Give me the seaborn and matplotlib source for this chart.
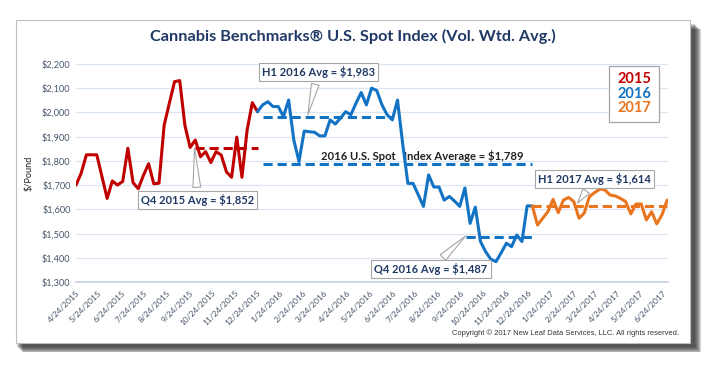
import pandas as pd
import matplotlib
matplotlib.use("Agg")
import matplotlib.pyplot as plt
from matplotlib.patches import Rectangle
import seaborn as sns

# weekly spot prices (each series starts where the previous one ends)
first_week = "2015-04-24"
prices_2015 = [1700, 1750, 1825, 1825, 1825, 1735, 1645, 1717, 1700, 1715, 1852, 1710,
               1685, 1740, 1788, 1705, 1708, 1948, 2038, 2127, 2131, 1946, 1855, 1886,
               1817, 1838, 1793, 1838, 1824, 1755, 1732, 1898, 1732, 1928, 2040, 2003]
prices_2016 = [2003, 2031, 2044, 2024, 2024, 1983, 2051, 1886, 1797, 1923, 1920, 1918,
               1903, 1903, 1969, 1952, 1976, 2003, 1990, 2038, 2082, 2031, 2100, 2090,
               2031, 1990, 1969, 2051, 1870, 1707, 1707, 1660, 1612, 1742, 1692, 1692,
               1638, 1653, 1634, 1612, 1688, 1542, 1609, 1467, 1425, 1394, 1384, 1421,
               1460, 1446, 1494, 1467, 1614, 1614]
prices_2017 = [1614, 1535, 1563, 1590, 1641, 1586, 1638, 1649, 1632, 1563, 1584, 1652,
               1669, 1683, 1680, 1659, 1655, 1645, 1632, 1581, 1622, 1622, 1556, 1590,
               1540, 1577, 1638]
series_names = ["2015", "2016", "2017"]
series_colors = ["#C00000", "#1273C4", "#E9761E"]

# average lines
avg_values = [1852, 1983, 1789, 1487, 1614]
avg_start = ["2015-10-01", "2016-01-01", "2016-01-01", "2016-10-01", "2016-12-30"]
avg_end = ["2015-12-25", "2016-06-24", "2016-12-30", "2016-12-30", "2017-06-30"]
avg_colors = ["#C00000", "#1273C4", "#1273C4", "#1273C4", "#E9761E"]

# callouts: text, box centre (date, value), pointer tip (date, value)
callout_text = ["Q4 2015 Avg = $1,852", "H1 2016 Avg = $1,983",
                "Q4 2016 Avg = $1,487", "H1 2017 Avg = $1,614"]
callout_box = [("2015-10-05", 1640), ("2016-03-16", 2166),
               ("2016-08-15", 1354), ("2017-03-24", 1724)]
callout_tip = [("2015-10-01", 1852), ("2016-03-02", 1990),
               ("2016-10-01", 1490), ("2017-03-01", 1625)]
year_avg_text = "2016 U.S. Spot   Index Average = $1,789"
year_avg_pos = ("2016-08-04", 1822)

tick_labels = ["4/24/2015", "5/24/2015", "6/24/2015", "7/24/2015", "8/24/2015",
               "9/24/2015", "10/24/2015", "11/24/2015", "12/24/2015", "1/24/2016",
               "2/24/2016", "3/24/2016", "4/24/2016", "5/24/2016", "6/24/2016",
               "7/24/2016", "8/24/2016", "9/24/2016", "10/24/2016", "11/24/2016",
               "12/24/2016", "1/24/2017", "2/24/2017", "3/24/2017", "4/24/2017",
               "5/24/2017", "6/24/2017"]
y_ticks = [1300, 1400, 1500, 1600, 1700, 1800, 1900, 2000, 2100, 2200]

frames = []
offset = 0
for name, vals in zip(series_names, [prices_2015, prices_2016, prices_2017]):
    dates = pd.date_range(first_week, periods=len(vals) + offset, freq="7D")[offset:]
    frames.append(pd.DataFrame({"date": dates, "price": vals, "year": name}))
    offset += len(vals) - 1
df = pd.concat(frames, ignore_index=True)

sns.set_theme(style="white")
plt.rcParams["font.family"] = ["Lato", "DejaVu Sans"]

navy = "#1F3864"
tick_col = "#44546A"

fig = plt.figure(figsize=(7.2, 3.76), dpi=100)
fig.patch.set_facecolor("white")

# shadowed frame
for i in range(7):
    fig.patches.append(Rectangle((0.024 + i * 0.0014, 0.088 - 0.012 - i * 0.0022),
                                 0.937 + 0.004, 0.859, transform=fig.transFigure,
                                 fc="#2A2A2A", alpha=0.2, ec="none", zorder=-5))
fig.patches.append(Rectangle((0.022, 0.088), 0.937, 0.859, transform=fig.transFigure,
                             fc="white", ec="#BFBFBF", lw=0.8, zorder=-4))

ax = fig.add_axes([0.1056, 0.25, 0.822, 0.58])
ax.set_facecolor("none")

sns.lineplot(data=df, x="date", y="price", hue="year", palette=series_colors,
             linewidth=2.2, legend=False, ax=ax, zorder=3)

for v, s, e, c in zip(avg_values, avg_start, avg_end, avg_colors):
    ax.plot(pd.to_datetime([s, e]), [v, v], color=c, lw=2.2, ls=(0, (3, 1.6)), zorder=2)

for txt, box, tip in zip(callout_text, callout_box, callout_tip):
    ax.annotate(txt, xy=(pd.Timestamp(tip[0]), tip[1]),
                xytext=(pd.Timestamp(box[0]), box[1]),
                ha="center", va="center", fontsize=8.0, fontweight="bold", color=navy,
                bbox=dict(boxstyle="square,pad=0.28", fc="white", ec="#A6A6A6", lw=0.8),
                arrowprops=dict(arrowstyle="wedge,tail_width=0.7", fc="white",
                                ec="#A6A6A6", lw=0.8, shrinkB=0),
                zorder=5)

ax.text(pd.Timestamp(year_avg_pos[0]), year_avg_pos[1], year_avg_text, ha="center",
        va="center", fontsize=8.1, fontweight="bold", color="#222222", zorder=1)

ax.set_ylim(1300, 2200)
ax.set_yticks(y_ticks)
ax.set_yticklabels([f"${v:,}" for v in y_ticks], fontsize=6.6, color=tick_col)
ax.set_xlim(pd.Timestamp("2015-04-24"), pd.Timestamp("2017-07-01"))
tick_dates = pd.to_datetime(tick_labels, format="%m/%d/%Y")
ax.set_xticks(tick_dates)
ax.set_xticklabels(tick_labels, rotation=45, ha="right", rotation_mode="anchor",
                   fontsize=6.0, color=tick_col)
ax.tick_params(axis="x", length=3, color="#C9D3E3", pad=2)
ax.tick_params(axis="y", length=0, pad=4)
ax.grid(axis="y", color="#DCE5F3", lw=0.9)
ax.grid(axis="x", visible=False)
for side in ["top", "right", "left"]:
    ax.spines[side].set_visible(False)
ax.spines["bottom"].set_color("#C9D3E3")
ax.set_xlabel("")
ax.set_ylabel("$/Pound", fontsize=6.6, color="#222222", labelpad=6)

fig.text(0.49, 0.903, "Cannabis Benchmarks\u00ae U.S. Spot Index (Vol. Wtd. Avg.)",
         ha="center", va="center", fontsize=11.7, fontweight="bold", color=navy)

# year key box
fig.patches.append(Rectangle((609 / 720, 1 - 122 / 376), 50 / 720, 56 / 376,
                             transform=fig.transFigure, fc="white", ec="#A6A6A6",
                             lw=0.9, zorder=4))
for name, c, ypx in zip(series_names, series_colors, [79, 94, 108]):
    fig.text(634 / 720, 1 - ypx / 376, name, ha="center", va="center",
             fontsize=10.5, fontweight="bold", color=c, zorder=6)

fig.text(0.943, 0.114, "Copyright \u00a9 2017 New Leaf Data Services, LLC. All rights reserved.",
         ha="right", va="center", fontsize=5.4, color="#333333",
         family=["Liberation Sans", "DejaVu Sans"])

fig.savefig("out.png", dpi=100)
